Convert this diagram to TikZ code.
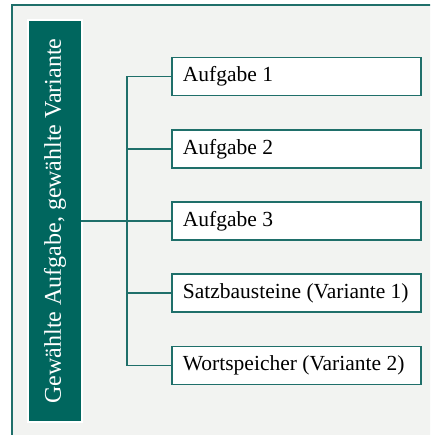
\documentclass[tikz,border=0pt]{standalone}
\usepackage{fontspec}
\setmainfont{Liberation Serif}
\definecolor{darkteal}{HTML}{00665E}
\definecolor{lineteal}{HTML}{1F6F6A}
\definecolor{panelgray}{HTML}{F2F3F1}
\begin{document}
\begin{tikzpicture}[x=1pt,y=-1pt,
  rootbox/.style={fill=darkteal, text=white, rotate=90, minimum width=400pt,
    minimum height=52pt, inner sep=0pt, font=\fontsize{24}{28}\selectfont},
  itembox/.style={draw=lineteal, line width=1.8pt, fill=white, anchor=west,
    minimum width=249pt, minimum height=38pt, inner xsep=11pt, inner ysep=0pt,
    font=\fontsize{21.5}{25}\selectfont},
  link/.style={draw=lineteal, line width=1.6pt}]
\useasboundingbox (0,0) rectangle (430,435);
\clip (0,0) rectangle (430,435);
% panel with its frame, running past the right and bottom edges
\draw[line width=2pt, draw=lineteal, fill=panelgray] (12,5) rectangle (460,465);
% white margin round the title bar
\fill[white] (27,19) rectangle (83,423);
\node[rootbox] (root) at (55,221) {Gewählte Aufgabe, gewählte Variante};
% entries
\node[itembox] (c1) at (171,76.5) {\makebox[227pt][l]{Aufgabe 1}};
\node[itembox] (c2) at (171,149) {\makebox[227pt][l]{Aufgabe 2}};
\node[itembox] (c3) at (171,221) {\makebox[227pt][l]{Aufgabe 3}};
\node[itembox] (c4) at (171,293) {\makebox[227pt][l]{Satzbausteine (Variante 1)}};
\node[itembox] (c5) at (171,365.5) {\makebox[227pt][l]{Wortspeicher (Variante 2)}};
% tree connectors
\coordinate (hub) at (127,221);
\draw[link] (root.south) -- (hub);
\draw[link] (hub |- c1.west) -- (hub |- c5.west);
\foreach \c in {c1,c2,c3,c4,c5}
  \draw[link] (hub |- \c.west) -- (\c.west);
\end{tikzpicture}
\end{document}
